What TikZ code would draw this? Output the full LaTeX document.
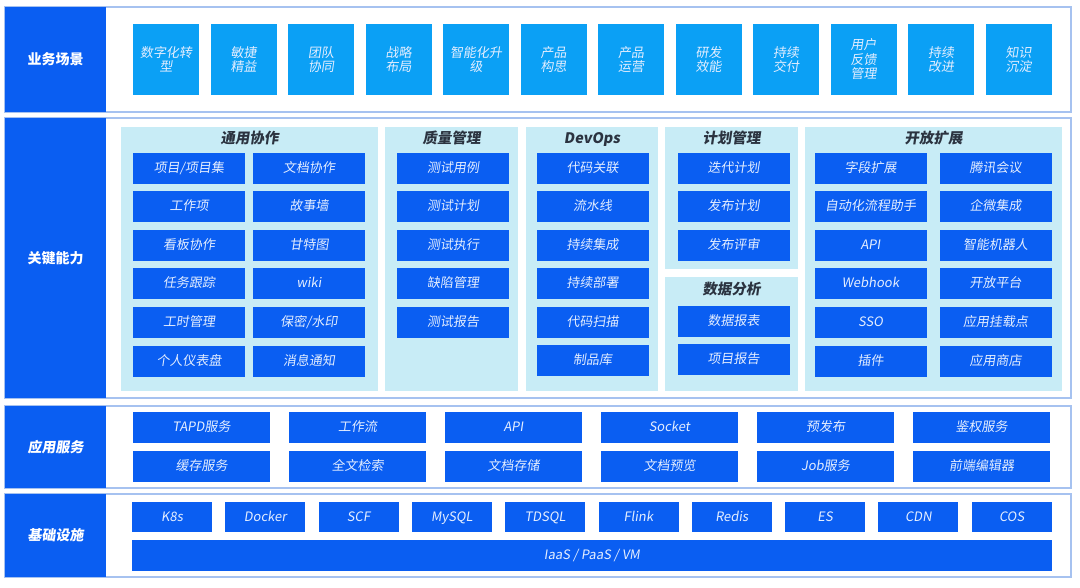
\documentclass[tikz,border=0pt]{standalone}
\usepackage{fontspec}
\setmainfont{Noto Sans CJK SC}
\newfontfamily\slfont[FakeSlant=0.15]{Noto Sans CJK SC}
\definecolor{mainblue}{HTML}{0A5EF2}
\definecolor{skyblue}{HTML}{0BA0F5}
\definecolor{panelcyan}{HTML}{C8ECF6}
\definecolor{frameblue}{HTML}{A6C2F0}
\definecolor{titlegray}{HTML}{2B3340}
\definecolor{itemtext}{HTML}{E4EEFF}
\tikzset{
  frame/.style={draw=frameblue, line width=1.5pt, fill=white, minimum width=1066pt, inner sep=0pt},
  tag/.style={fill=mainblue, text=white, font=\bfseries\fontsize{14}{16}\selectfont, minimum width=101pt, inner sep=0pt},
  scene/.style={fill=skyblue, text=itemtext, font=\slfont\fontsize{13}{14.5}\selectfont, minimum width=66pt, minimum height=71pt, align=center, inner sep=0pt},
  panel/.style={fill=panelcyan, inner sep=0pt},
  title/.style={text=titlegray, font=\slfont\bfseries\fontsize{14.5}{16}\selectfont, text height=11pt, text depth=3pt},
  item/.style={fill=mainblue, text=itemtext, font=\slfont\fontsize{13}{15}\selectfont, minimum width=112pt, minimum height=31pt, inner sep=0pt, text height=10.5pt, text depth=2.5pt},
}
\begin{document}
\begin{tikzpicture}[x=1pt,y=-1pt]
        \useasboundingbox (0,0) rectangle (1080,587);
        % business scenes
        \begin{scope}[shift={(0,7)}]
            \node[frame, minimum height=105pt] (row1) at (538,52.5) {};
            \node[tag, minimum height=105pt] (tag1) at (55.5,52.5) {业务场景};
            \node[scene] (s1) at (166,52.5) {数字化转\\型};
            \node[scene] (s2) at (243.5,52.5) {敏捷\\精益};
            \node[scene] (s3) at (321,52.5) {团队\\协同};
            \node[scene] (s4) at (398.5,52.5) {战略\\布局};
            \node[scene] (s5) at (476,52.5) {智能化升\\级};
            \node[scene] (s6) at (553.5,52.5) {产品\\构思};
            \node[scene] (s7) at (631,52.5) {产品\\运营};
            \node[scene] (s8) at (708.5,52.5) {研发\\效能};
            \node[scene] (s9) at (786,52.5) {持续\\交付};
            \node[scene] (s10) at (863.5,52.5) {用户\\反馈\\管理};
            \node[scene] (s11) at (941,52.5) {持续\\改进};
            \node[scene] (s12) at (1018.5,52.5) {知识\\沉淀};
        \end{scope}
        % key capabilities
        \begin{scope}[shift={(0,118)}]
            \node[frame, minimum height=280pt] (row2) at (538,140) {};
            \node[tag, minimum height=280pt] (tag2) at (55.5,140) {关键能力};
            \node[panel, minimum width=257pt, minimum height=264pt] (p1) at (249.5,141) {};
            \node[panel, minimum width=133pt, minimum height=264pt] (p2) at (451.5,141) {};
            \node[panel, minimum width=132pt, minimum height=264pt] (p3) at (592,141) {};
            \node[panel, minimum width=133pt, minimum height=142pt] (p4) at (731.5,80) {};
            \node[panel, minimum width=133pt, minimum height=114pt] (p5) at (731.5,216) {};
            \node[panel, minimum width=257pt, minimum height=264pt] (p6) at (933.5,141) {};
            \node[title] (t1) at (249.5,21) {通用协作};
            \node[title] (t2) at (451.5,21) {质量管理};
            \node[title] (t3) at (592,21) {DevOps};
            \node[title] (t4) at (731.5,21) {计划管理};
            \node[title] (t5) at (731.5,172) {数据分析};
            \node[title] (t6) at (933.5,21) {开放扩展};
            \node[item] (ty1) at (189,50.5) {项目/项目集};
            \node[item] (ty2) at (309,50.5) {文档协作};
            \node[item] (ty3) at (189,88.9) {工作项};
            \node[item] (ty4) at (309,88.9) {故事墙};
            \node[item] (ty5) at (189,127.3) {看板协作};
            \node[item] (ty6) at (309,127.3) {甘特图};
            \node[item] (ty7) at (189,165.7) {任务跟踪};
            \node[item] (ty8) at (309,165.7) {wiki};
            \node[item] (ty9) at (189,204.1) {工时管理};
            \node[item] (ty10) at (309,204.1) {保密/水印};
            \node[item] (ty11) at (189,243.5) {个人仪表盘};
            \node[item] (ty12) at (309,243.5) {消息通知};
            \node[item] (zl1) at (453,50.5) {测试用例};
            \node[item] (zl2) at (453,88.9) {测试计划};
            \node[item] (zl3) at (453,127.3) {测试执行};
            \node[item] (zl4) at (453,165.7) {缺陷管理};
            \node[item] (zl5) at (453,204.1) {测试报告};
            \node[item] (dv1) at (592.5,50.5) {代码关联};
            \node[item] (dv2) at (592.5,88.9) {流水线};
            \node[item] (dv3) at (592.5,127.3) {持续集成};
            \node[item] (dv4) at (592.5,165.7) {持续部署};
            \node[item] (dv5) at (592.5,204.1) {代码扫描};
            \node[item] (dv6) at (592.5,242.5) {制品库};
            \node[item] (jh1) at (733.5,50.5) {迭代计划};
            \node[item] (jh2) at (733.5,88.9) {发布计划};
            \node[item] (jh3) at (733.5,127.3) {发布评审};
            \node[item] (sj1) at (733.5,203) {数据报表};
            \node[item] (sj2) at (733.5,241) {项目报告};
            \node[item] (kf1) at (870.5,50.5) {字段扩展};
            \node[item] (kf2) at (995.5,50.5) {腾讯会议};
            \node[item] (kf3) at (870.5,88.9) {自动化流程助手};
            \node[item] (kf4) at (995.5,88.9) {企微集成};
            \node[item] (kf5) at (870.5,127.3) {API};
            \node[item] (kf6) at (995.5,127.3) {智能机器人};
            \node[item] (kf7) at (870.5,165.7) {Webhook};
            \node[item] (kf8) at (995.5,165.7) {开放平台};
            \node[item] (kf9) at (870.5,204.1) {SSO};
            \node[item] (kf10) at (995.5,204.1) {应用挂载点};
            \node[item] (kf11) at (870.5,243.5) {插件};
            \node[item] (kf12) at (995.5,243.5) {应用商店};
        \end{scope}
        % application services
        \begin{scope}[shift={(0,406)}]
            \node[frame, minimum height=82pt] (row3) at (538,41) {};
            \node[tag, minimum height=82pt, font=\slfont\bfseries\fontsize{14}{16}\selectfont] (tag3) at (55.5,41) {应用服务};
            \node[item, minimum width=137pt] (fw1) at (201.5,21) {TAPD服务};
            \node[item, minimum width=137pt] (fw2) at (357.5,21) {工作流};
            \node[item, minimum width=137pt] (fw3) at (513.5,21) {API};
            \node[item, minimum width=137pt] (fw4) at (669.5,21) {Socket};
            \node[item, minimum width=137pt] (fw5) at (825.5,21) {预发布};
            \node[item, minimum width=137pt] (fw6) at (981.5,21) {鉴权服务};
            \node[item, minimum width=137pt] (fw7) at (201.5,60.5) {缓存服务};
            \node[item, minimum width=137pt] (fw8) at (357.5,60.5) {全文检索};
            \node[item, minimum width=137pt] (fw9) at (513.5,60.5) {文档存储};
            \node[item, minimum width=137pt] (fw10) at (669.5,60.5) {文档预览};
            \node[item, minimum width=137pt] (fw11) at (825.5,60.5) {Job服务};
            \node[item, minimum width=137pt] (fw12) at (981.5,60.5) {前端编辑器};
        \end{scope}
        % infrastructure
        \begin{scope}[shift={(0,494)}]
            \node[frame, minimum height=83pt] (row4) at (538,41.5) {};
            \node[tag, minimum height=83pt, font=\slfont\bfseries\fontsize{14}{16}\selectfont] (tag4) at (55.5,41.5) {基础设施};
            \node[item, minimum width=80pt, minimum height=30pt] (jc1) at (172,23) {K8s};
            \node[item, minimum width=80pt, minimum height=30pt] (jc2) at (265.3,23) {Docker};
            \node[item, minimum width=80pt, minimum height=30pt] (jc3) at (358.6,23) {SCF};
            \node[item, minimum width=80pt, minimum height=30pt] (jc4) at (451.9,23) {MySQL};
            \node[item, minimum width=80pt, minimum height=30pt] (jc5) at (545.2,23) {TDSQL};
            \node[item, minimum width=80pt, minimum height=30pt] (jc6) at (638.5,23) {Flink};
            \node[item, minimum width=80pt, minimum height=30pt] (jc7) at (731.8,23) {Redis};
            \node[item, minimum width=80pt, minimum height=30pt] (jc8) at (825.1,23) {ES};
            \node[item, minimum width=80pt, minimum height=30pt] (jc9) at (918.4,23) {CDN};
            \node[item, minimum width=80pt, minimum height=30pt] (jc10) at (1011.7,23) {COS};
            \node[item, minimum width=920pt] (iaas) at (592,61.5) {IaaS / PaaS / VM};
        \end{scope}
    \end{tikzpicture}
\end{document}
